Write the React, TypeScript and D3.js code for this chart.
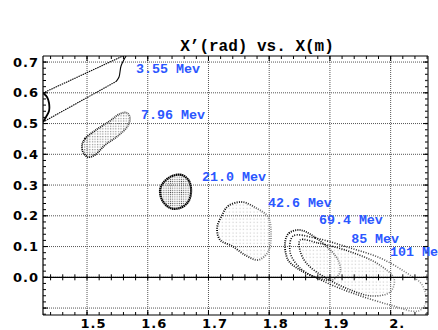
import React from "react";
import * as d3 from "d3";

type P = [number, number];

// ---- axis / tick data ----
const xMajor = [1.5, 1.6, 1.7, 1.8, 1.9, 2.0];
const xMajorLabels = ["1.5", "1.6", "1.7", "1.8", "1.9", "2."];
const yMajor = [0, 0.1, 0.2, 0.3, 0.4, 0.5, 0.6, 0.7];
const yMajorLabels = ["0.0", "0.1", "0.2", "0.3", "0.4", "0.5", "0.6", "0.7"];
const yGrid = [-0.1, 0, 0.1, 0.2, 0.3, 0.4, 0.5, 0.6, 0.7];

// ---- beam labels ----
const energyLabels = ["3.55 Mev", "7.96 Mev", "21.0 Mev", "42.6 Mev", "69.4 Mev", "85 Mev", "101 Mev"];
const labelX = [1.5807, 1.589, 1.6895, 1.798, 1.882, 1.935, 1.999];
const labelY = [0.664, 0.515, 0.313, 0.229, 0.173, 0.112, 0.069];

// ---- phase-space outlines (x [m], x' [rad]) ----
const c355Bulge: P[] = [[1.4275, 0.5993], [1.4341, 0.5863], [1.4374, 0.5668], [1.4374, 0.5408], [1.4325, 0.5213], [1.4275, 0.505]];
const c355Upper: P[] = [[1.4275, 0.5993], [1.5626, 0.7229]];
const c355Lower: P[] = [[1.4275, 0.505], [1.5478, 0.6367]];
const c355Kink: P[] = [[1.5478, 0.6367], [1.5527, 0.6514], [1.556, 0.6872], [1.5643, 0.7197]];

const c796: P[] = [
  [1.4918, 0.43], [1.4967, 0.451], [1.5132, 0.477], [1.5379, 0.509], [1.5544, 0.532], [1.5659, 0.535],
  [1.5708, 0.519], [1.5675, 0.493], [1.5511, 0.46], [1.5297, 0.43], [1.5132, 0.398], [1.5016, 0.391], [1.4934, 0.407],
];
const c210: P[] = [
  [1.6252, 0.3067], [1.64, 0.3294], [1.6565, 0.3327], [1.668, 0.3132], [1.6713, 0.2774],
  [1.6664, 0.2449], [1.6532, 0.2254], [1.6367, 0.2254], [1.6236, 0.2514], [1.6203, 0.2839],
];
const c426: P[] = [
  [1.7224, 0.2026], [1.7323, 0.2319], [1.7554, 0.2449], [1.7784, 0.2254], [1.7982, 0.1961], [1.8031, 0.1376],
  [1.7982, 0.0823], [1.7817, 0.0563], [1.7603, 0.0725], [1.7389, 0.1018], [1.7191, 0.1213], [1.7142, 0.1603],
];
const c694: P[] = [
  [1.8262, 0.1148], [1.8328, 0.1441], [1.8509, 0.1538], [1.8723, 0.1343], [1.8954, 0.0985], [1.9135, 0.0563],
  [1.9168, 0.0172], [1.9036, -0.0088], [1.8806, -0.0023], [1.8509, 0.0237], [1.8311, 0.0563],
];
const c850: P[] = [
  [1.8509, 0.1213], [1.8806, 0.1115], [1.93, 0.0855], [1.9794, 0.0433], [2.0058, -0.0055], [1.9992, -0.0478],
  [1.9695, -0.0608], [1.93, -0.038], [1.8904, 0.001], [1.8624, 0.0433], [1.8509, 0.0855],
];
const c1010: P[] = [
  [1.8394, 0.1343], [1.8756, 0.1278], [1.9283, 0.0985], [1.9827, 0.0628], [2.0239, 0.0172], [2.0519, -0.025],
  [2.058, -0.0835], [2.0453, -0.1096], [1.9992, -0.0901], [1.9415, -0.0543], [1.8921, -0.0153], [1.8509, 0.0302], [1.8344, 0.0823],
];

const W = 438;
const H = 330;
const L = 43, R = 428, T = 56, B = 315;

export default function App() {
  const x = d3.scaleLinear().domain([1.4275, 2.0615]).range([L, R]);
  const y = d3.scaleLinear().domain([-0.1226, 0.7197]).range([B, T]);

  const xMinor = d3.range(1.44, 2.0615, 0.02);
  const yMinor = d3.range(-0.12, 0.7197, 0.02);

  const open = d3.line<P>().x((d) => x(d[0])).y((d) => y(d[1]));
  const smoothOpen = d3.line<P>().x((d) => x(d[0])).y((d) => y(d[1])).curve(d3.curveCatmullRom);
  const closed = d3.line<P>().x((d) => x(d[0])).y((d) => y(d[1])).curve(d3.curveCatmullRomClosed);

  const font = "'DejaVu Sans', sans-serif";
  const mono = "'Liberation Mono', 'DejaVu Sans Mono', monospace";
  const blue = "#2b57ff";

  const clusters: { pts: P[]; stroke: string; fill: string; dash: string; w: number; op: number }[] = [
    { pts: c796, stroke: "url(#g796)", fill: "url(#dots)", dash: "1 0.9", w: 1.8, op: 0.9 },
    { pts: c210, stroke: "#000", fill: "url(#dotsDense)", dash: "1.5 0.5", w: 2.2, op: 0.9 },
    { pts: c426, stroke: "url(#gFade)", fill: "url(#dotsSparse)", dash: "1 1.3", w: 1.9, op: 0.8 },
    { pts: c694, stroke: "url(#gFade2)", fill: "none", dash: "1 1.2", w: 1.8, op: 1 },
    { pts: c850, stroke: "url(#gFade2)", fill: "url(#dotsSparse)", dash: "1 1.4", w: 1.6, op: 0.8 },
    { pts: c1010, stroke: "url(#gFade3)", fill: "none", dash: "1 1.5", w: 1.6, op: 1 },
  ];

  return (
    <svg width={W} height={H} style={{ position: "absolute", left: 0, top: 0, background: "#fff" }}>
      <defs>
        <clipPath id="plot">
          <rect x={L} y={T} width={R - L} height={B - T} />
        </clipPath>
        <pattern id="dots" width="2.6" height="2.6" patternUnits="userSpaceOnUse">
          <rect x="1" y="1" width="1" height="1" fill="#555" />
        </pattern>
        <pattern id="dotsDense" width="2.2" height="2.2" patternUnits="userSpaceOnUse">
          <rect x="0.6" y="0.6" width="1" height="1" fill="#333" />
        </pattern>
        <pattern id="dotsSparse" width="3.5" height="3.5" patternUnits="userSpaceOnUse">
          <rect x="1.5" y="1.5" width="0.9" height="0.9" fill="#999" />
        </pattern>
        <linearGradient id="g796" x1="0" x2="1" y1="0" y2="0">
          <stop offset="0" stopColor="#000" />
          <stop offset="0.4" stopColor="#111" />
          <stop offset="1" stopColor="#666" />
        </linearGradient>
        <linearGradient id="gFade" x1="0" x2="1" y1="0" y2="0">
          <stop offset="0" stopColor="#000" />
          <stop offset="0.55" stopColor="#222" />
          <stop offset="1" stopColor="#999" />
        </linearGradient>
        <linearGradient id="gFade2" x1="0" x2="1" y1="0" y2="0">
          <stop offset="0" stopColor="#000" />
          <stop offset="0.6" stopColor="#111" />
          <stop offset="1" stopColor="#888" />
        </linearGradient>
        <linearGradient id="gFade3" x1="0" x2="1" y1="0" y2="0">
          <stop offset="0" stopColor="#000" />
          <stop offset="0.5" stopColor="#333" />
          <stop offset="1" stopColor="#999" />
        </linearGradient>
      </defs>

      {/* grid */}
      <g stroke="#555" strokeWidth={1} strokeDasharray="1 1">
        {xMajor.map((v) => (
          <line key={"gx" + v} x1={x(v)} x2={x(v)} y1={T} y2={B} />
        ))}
        {yGrid.map((v) => (
          <line key={"gy" + v} x1={L} x2={R} y1={y(v)} y2={y(v)} />
        ))}
      </g>

      {/* clusters */}
      <g clipPath="url(#plot)" fill="none">
        <path d={smoothOpen(c355Bulge) || ""} stroke="#000" strokeWidth={1.8} />
        <path d={open(c355Upper) || ""} stroke="#000" strokeWidth={1.1} strokeDasharray="1.5 0.8" />
        <path d={open(c355Lower) || ""} stroke="#000" strokeWidth={1.1} strokeDasharray="1.5 0.8" />
        <path d={smoothOpen(c355Kink) || ""} stroke="#000" strokeWidth={1.1} />
        {clusters.map((c, i) => (
          <g key={"c" + i}>
            <path d={closed(c.pts) || ""} fill={c.fill} stroke="none" opacity={c.op} />
            <path d={closed(c.pts) || ""} fill="none" stroke={c.stroke} strokeWidth={c.w} strokeDasharray={c.dash} />
          </g>
        ))}
      </g>

      {/* zero line with cross ticks */}
      <line x1={L} x2={R} y1={y(0)} y2={y(0)} stroke="#000" strokeWidth={1.2} />
      {xMinor.map((v, i) => (
        <line key={"zt" + i} x1={x(v)} x2={x(v)} y1={y(0) - 3} y2={y(0) + 3} stroke="#000" strokeWidth={1} />
      ))}

      {/* frame */}
      <line x1={L} x2={L} y1={T} y2={B} stroke="#000" strokeWidth={1.2} />
      <line x1={L} x2={R} y1={B} y2={B} stroke="#000" strokeWidth={1.2} />
      <line x1={L} x2={R} y1={T} y2={T} stroke="#000" strokeWidth={1} />
      <line x1={R} x2={R} y1={T} y2={B} stroke="#555" strokeWidth={1.6} />

      {/* ticks */}
      {xMinor.map((v, i) => (
        <g key={"xt" + i} stroke="#000" strokeWidth={1}>
          <line x1={x(v)} x2={x(v)} y1={B} y2={B - 3} />
          <line x1={x(v)} x2={x(v)} y1={T} y2={T + 3} />
        </g>
      ))}
      {xMajor.map((v) => (
        <g key={"xM" + v} stroke="#000" strokeWidth={1}>
          <line x1={x(v)} x2={x(v)} y1={B} y2={B - 5} />
          <line x1={x(v)} x2={x(v)} y1={T} y2={T + 5} />
        </g>
      ))}
      {yMinor.map((v, i) => (
        <g key={"yt" + i} stroke="#000" strokeWidth={1}>
          <line x1={L} x2={L + 3} y1={y(v)} y2={y(v)} />
          <line x1={R} x2={R - 3} y1={y(v)} y2={y(v)} stroke="#333" strokeWidth={1.3} />
        </g>
      ))}
      {yGrid.map((v) => (
        <g key={"yM" + v} stroke="#000" strokeWidth={1}>
          <line x1={L} x2={L + 5} y1={y(v)} y2={y(v)} />
          <line x1={R} x2={R - 5} y1={y(v)} y2={y(v)} />
        </g>
      ))}

      {/* tick labels */}
      {xMajor.map((v, i) => (
        <text key={"xl" + v} x={x(v) + 6.5} y={327.5} textAnchor="middle" fontFamily={font} fontWeight="bold" fontSize={13} letterSpacing={1}>
          {xMajorLabels[i]}
        </text>
      ))}
      {yMajor.map((v, i) => (
        <text key={"yl" + v} x={39} y={y(v)} dy="0.36em" textAnchor="end" fontFamily={font} fontWeight="bold" fontSize={13} letterSpacing={1}>
          {yMajorLabels[i]}
        </text>
      ))}

      {/* title */}
      <text x={257} y={51} textAnchor="middle" fontFamily={mono} fontWeight="bold" fontSize={16}>
        X’(rad) vs. X(m)
      </text>

      {/* energy labels */}
      {energyLabels.map((t, i) => (
        <text key={"el" + i} x={x(labelX[i])} y={y(labelY[i])} fontFamily={mono} fontWeight="bold" fontSize={13.3} fill={blue}>
          {t}
        </text>
      ))}
    </svg>
  );
}
